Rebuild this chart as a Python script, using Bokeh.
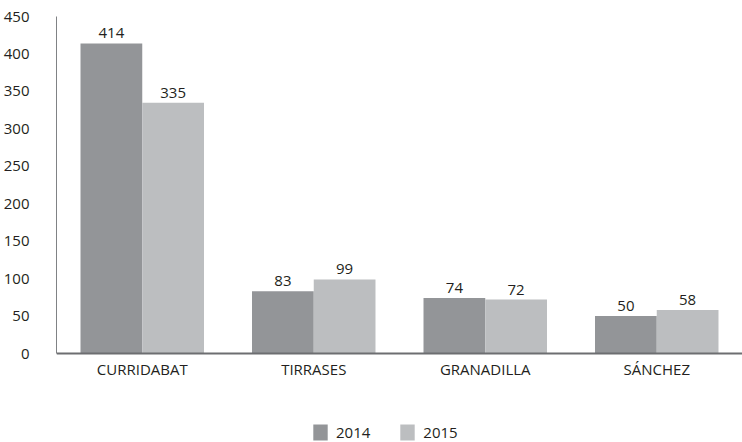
from bokeh.plotting import figure
from bokeh.models import ColumnDataSource, FactorRange, Range1d, Legend, LegendItem, Span
from bokeh.transform import dodge
from bokeh.core.properties import value
from bokeh.embed import file_html
from bokeh.resources import INLINE

districts = ["CURRIDABAT", "TIRRASES", "GRANADILLA", "SÁNCHEZ"]
values_2014 = [414, 83, 74, 50]
values_2015 = [335, 99, 72, 58]
years = ["2014", "2015"]
y_ticks = [0, 50, 100, 150, 200, 250, 300, 350, 400, 450]

FONT = "Open Sans"
TEXT = "#231f20"
C14 = "#939598"
C15 = "#bcbec0"
FS = "15px"

src = ColumnDataSource(dict(
    d=districts, v14=values_2014, v15=values_2015,
    l14=[str(v) for v in values_2014], l15=[str(v) for v in values_2015],
))

# frame extends below zero to leave room for category labels and legend
p = figure(width=742, height=442, x_range=FactorRange(*districts, range_padding=0),
           y_range=Range1d(-118.8, 450), output_backend="svg", toolbar_location=None,
           x_axis_location=None,
           min_border_left=55, min_border_right=0, min_border_top=16, min_border_bottom=0)
p.outline_line_color = None
p.xgrid.grid_line_color = None
p.ygrid.grid_line_color = None

bw = 0.36
r14 = p.vbar(x=dodge("d", -0.18, range=p.x_range), top="v14", width=bw, source=src,
             fill_color=C14, line_color=None)
r15 = p.vbar(x=dodge("d", 0.18, range=p.x_range), top="v15", width=bw, source=src,
             fill_color=C15, line_color=None)

for off, col, lab in [(-0.18, "v14", "l14"), (0.18, "v15", "l15")]:
    p.text(x=dodge("d", off, range=p.x_range), y=col, text=lab, source=src,
           text_align="center", text_baseline="alphabetic", y_offset=-10,
           text_font=value(FONT), text_font_size=FS, text_color=TEXT)

# x axis line at zero and category labels
p.add_layout(Span(location=0, dimension="width", line_color="#6d6e71", line_width=2))
p.text(x="d", y=0, text="d", source=src, text_align="center", text_baseline="top",
       y_offset=5, text_font=value(FONT), text_font_size=FS, text_color=TEXT)

p.yaxis.ticker = y_ticks
p.yaxis.bounds = (0, 450)
p.yaxis.axis_line_color = "#808285"
p.yaxis.axis_line_width = 1
p.yaxis.major_tick_line_color = None
p.yaxis.minor_tick_line_color = None
p.yaxis.major_label_standoff = 21
p.yaxis.major_label_text_font = FONT
p.yaxis.major_label_text_font_size = FS
p.yaxis.major_label_text_color = TEXT

legend = Legend(items=[LegendItem(label=years[0], renderers=[r14]),
                       LegendItem(label=years[1], renderers=[r15])],
                orientation="horizontal", location=(255, 0),
                glyph_width=18, glyph_height=20, label_standoff=7, spacing=28,
                label_text_font=FONT, label_text_font_size=FS, label_text_color=TEXT,
                border_line_color=None, background_fill_alpha=0, padding=0, margin=0)
p.add_layout(legend, "center")

open("out.html", "w").write(file_html(p, INLINE))
